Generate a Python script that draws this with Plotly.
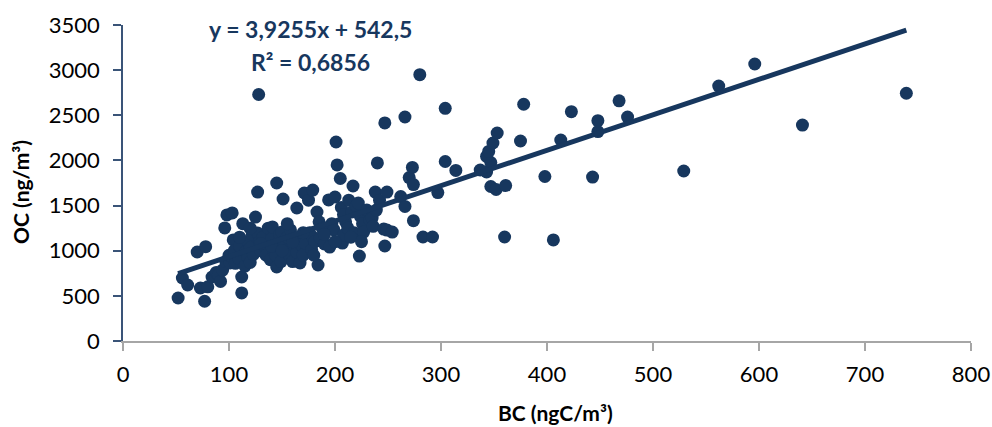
import plotly.graph_objects as go

# BC vs OC concentrations (one point per sample)
bc = [52, 56, 61, 70, 73, 77, 78, 80, 84, 88, 90, 92, 94, 96, 98, 103, 97, 101, 100, 104,
      105, 106, 109, 110, 112, 112, 113, 115, 116, 118, 118, 120, 120, 122, 123, 125, 127, 128,
      127, 129, 130, 132, 134, 135, 137, 139, 140, 141, 142, 144, 145, 145, 146, 148, 149, 150,
      151, 152, 153, 155, 157, 158, 160, 162, 164, 164, 166, 167, 168, 170, 171, 172, 175, 176,
      178, 179, 179, 181, 183, 184, 185, 186, 188, 190, 194, 195, 197, 199, 200, 201, 202, 205,
      206, 207, 208, 208, 210, 212, 213, 217, 216, 218, 220, 222, 223, 224, 226, 227, 230, 233,
      235, 236, 238, 239, 240, 242, 246, 247, 247, 249, 249, 254, 262, 266, 266, 270, 273, 274,
      274, 280, 283, 292, 297, 304, 304, 314, 337, 343, 347, 343, 345, 349, 353, 347, 352, 361,
      360, 375, 378, 398, 406, 413, 423, 443, 448, 448, 468, 476, 529, 562, 596, 641, 739,
      130, 140, 150, 160, 170, 190, 200, 215, 225, 180, 155, 120, 110]
oc = [476, 698, 620, 986, 587, 440, 1045, 600, 709, 760, 731, 660, 786, 1252, 1396, 1418, 880,
      864, 950, 1119, 1000, 860, 919, 1050, 709, 532, 1300, 830, 990, 1100, 920, 1030, 870, 1180,
      960, 1373, 1650, 2730, 1196, 1100, 1000, 1150, 1041, 950, 1250, 900, 1130, 1263, 1000, 950,
      1750, 820, 1060, 1180, 880, 1207, 1573, 1100, 1000, 1150, 950, 1230, 880, 1050, 1473, 985,
      1150, 864, 1070, 952, 1639, 1080, 1560, 1200, 1010, 1672, 1152, 1100, 1429, 842, 1320, 1141,
      1250, 1075, 1562, 1040, 1300, 1230, 1595, 2204, 1950, 1800, 1480, 1085, 1174, 1400, 1320,
      1252, 1560, 1717, 1430, 1200, 1500, 1528, 941, 1380, 1300, 1207, 1450, 1340, 1362, 1270,
      1650, 1450, 1972, 1560, 1240, 2415, 1052, 1650, 1229, 1207, 1600, 1490, 2481, 1810, 1922,
      1733, 1333, 2950, 1152, 1152, 1644, 1988, 2577, 1889, 1894, 1872, 1977, 2044, 2100, 2193,
      2304, 1711, 1678, 1722, 1152, 2215, 2622, 1822, 1119, 2226, 2540, 1816, 2320, 2440, 2660,
      2480, 1883, 2824, 3068, 2392, 2744,
      1080, 1050, 1000, 1100, 1200, 1180, 1100, 1150, 1100, 950, 1300, 1250, 1150]

# Linear fit reported on the chart
slope = 3.9255
intercept = 542.5
r_squared = 0.6856

x_ticks = [0, 100, 200, 300, 400, 500, 600, 700, 800]
y_ticks = [0, 500, 1000, 1500, 2000, 2500, 3000, 3500]

NAVY = "#17375E"
FONT = "Lato"

W, H = 992, 427
ML, MR, MT, MB = 123, 21, 25, 86
PW, PH = W - ML - MR, H - MT - MB


def fmt_comma(v, decimals):
    return f"{v:.{decimals}f}".replace(".", ",")


def paper_xy(px, py):
    """Pixel position in the page -> paper coordinates."""
    return (px - ML) / PW, 1 - (py - MT) / PH


x_fit = [min(bc), max(bc)]
y_fit = [slope * x + intercept for x in x_fit]

fig = go.Figure()
fig.add_trace(go.Scatter(
    x=bc, y=oc, mode="markers",
    marker=dict(size=13, color=NAVY, line=dict(width=0)),
    showlegend=False, hoverinfo="x+y",
))
fig.add_trace(go.Scatter(
    x=x_fit, y=y_fit, mode="lines",
    line=dict(color=NAVY, width=5),
    showlegend=False, hoverinfo="skip",
))

fig.update_layout(
    width=W, height=H,
    margin=dict(l=ML, r=MR, t=MT, b=MB, autoexpand=False),
    paper_bgcolor="white", plot_bgcolor="white",
    font=dict(family=FONT, size=21, color="black"),
    xaxis=dict(
        range=[0, 800], tickvals=x_ticks, ticktext=[str(v) for v in x_ticks],
        showgrid=False, zeroline=False, automargin=False,
        showline=True, linecolor="#A6A6A6", linewidth=1.5,
        ticks="outside", ticklen=8, tickcolor="#A6A6A6", tickwidth=1.5,
        ticklabelstandoff=5,
        tickfont=dict(family=FONT, size=22, color="black"),
    ),
    yaxis=dict(
        range=[0, 3500], tickvals=y_ticks, ticktext=[str(v) for v in y_ticks],
        showgrid=False, zeroline=False, automargin=False,
        showline=True, linecolor="#3A5478", linewidth=1.5,
        ticks="outside", ticklen=8, tickcolor="#3A5478", tickwidth=1.5,
        ticklabelstandoff=9,
        tickfont=dict(family=FONT, size=22, color="black"),
    ),
)

# Regression equation and R² label
for text, px, py in [
    (f"<b>y = {fmt_comma(slope, 4)}x + {fmt_comma(intercept, 1)}</b>", 310, 29),
    (f"<b>R² = {fmt_comma(r_squared, 4)}</b>", 310, 62),
]:
    ax, ay = paper_xy(px, py)
    fig.add_annotation(
        text=text, showarrow=False, x=ax, y=ay,
        xref="paper", yref="paper", xanchor="center", yanchor="middle",
        font=dict(family=FONT, size=23, color=NAVY),
    )

# Axis titles
tx, ty = paper_xy(555, 412)
fig.add_annotation(
    text="<b>BC (ngC/m³)</b>", showarrow=False, x=tx, y=ty,
    xref="paper", yref="paper", xanchor="center", yanchor="middle",
    font=dict(family=FONT, size=21, color="black"),
)
tx, ty = paper_xy(20, 192)
fig.add_annotation(
    text="<b>OC (ng/m³)</b>", showarrow=False, textangle=-90, x=tx, y=ty,
    xref="paper", yref="paper", xanchor="center", yanchor="middle",
    font=dict(family=FONT, size=21, color="black"),
)

fig.write_html("out.html")
